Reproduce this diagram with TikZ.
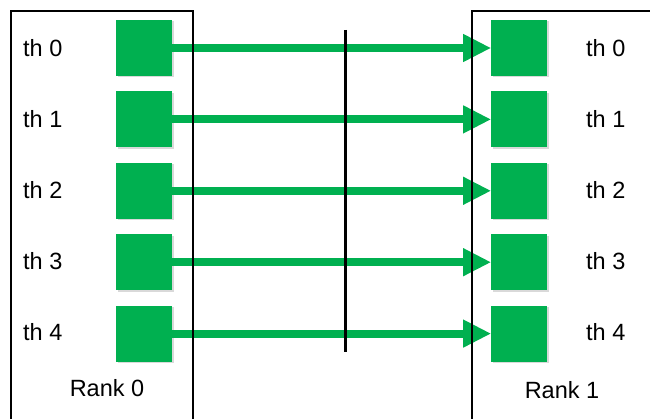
\documentclass[tikz,border=0pt]{standalone}
\usepackage{fontspec}
\setmainfont{Liberation Sans}
\usetikzlibrary{arrows.meta, positioning, shadows}
\definecolor{thgreen}{HTML}{00B050}

\begin{document}
\begin{tikzpicture}[x=1pt, y=-1pt,
  thread/.style={rectangle, fill=thgreen, minimum size=56pt, inner sep=0pt,
    drop shadow={shadow xshift=1.5pt, shadow yshift=-1.5pt, opacity=0.3}},
  msg/.style={draw=thgreen, line width=8pt, -{Triangle[length=28pt, width=26pt]}},
  lbl/.style={font=\fontsize{23.5}{27}\selectfont, inner sep=0pt},
  rank/.style={draw=black, line width=2pt, minimum width=182pt, minimum height=440pt, anchor=north west}]
  \clip (0,0) rectangle (650,419);
  % threads on rank 0
  \node[thread] (src_0) at (144,48) {};
\node[thread, below=15pt of src_0] (src_1) {};
\node[thread, below=15pt of src_1] (src_2) {};
\node[thread, below=15pt of src_2] (src_3) {};
\node[thread, below=15pt of src_3] (src_4) {};
  % threads on rank 1
\node[thread, right=319pt of src_0] (dst_0) {};
\node[thread, right=319pt of src_1] (dst_1) {};
\node[thread, right=319pt of src_2] (dst_2) {};
\node[thread, right=319pt of src_3] (dst_3) {};
\node[thread, right=319pt of src_4] (dst_4) {};
\path
	(src_0.east) edge[msg] (dst_0.west)
	(src_1.east) edge[msg] (dst_1.west)
	(src_2.east) edge[msg] (dst_2.west)
	(src_3.east) edge[msg] (dst_3.west)
	(src_4.east) edge[msg] (dst_4.west)
;
  % the two ranks
  \node[rank] (rank0_box) at (10,10) {};
  \node[rank] (rank1_box) at (471,10) {};
  \node[lbl] (rank0_title) at (107,388) {Rank 0};
  \node[lbl] (rank1_title) at (562,390) {Rank 1};
  % thread labels
  \node[lbl, anchor=west] (src_lbl_0) at (23,48) {th 0};
  \node[lbl, anchor=west] (src_lbl_1) at (23,119) {th 1};
  \node[lbl, anchor=west] (src_lbl_2) at (23,190) {th 2};
  \node[lbl, anchor=west] (src_lbl_3) at (23,261) {th 3};
  \node[lbl, anchor=west] (src_lbl_4) at (23,332) {th 4};
  \node[lbl, anchor=west] (dst_lbl_0) at (586,48) {th 0};
  \node[lbl, anchor=west] (dst_lbl_1) at (586,119) {th 1};
  \node[lbl, anchor=west] (dst_lbl_2) at (586,190) {th 2};
  \node[lbl, anchor=west] (dst_lbl_3) at (586,261) {th 3};
  \node[lbl, anchor=west] (dst_lbl_4) at (586,332) {th 4};
  % the network in between
  \coordinate (net_top) at (345,30);
  \coordinate (net_bot) at (345,352);
  \draw[line width=3pt] (net_top) -- (net_bot);
\end{tikzpicture}
\end{document}
